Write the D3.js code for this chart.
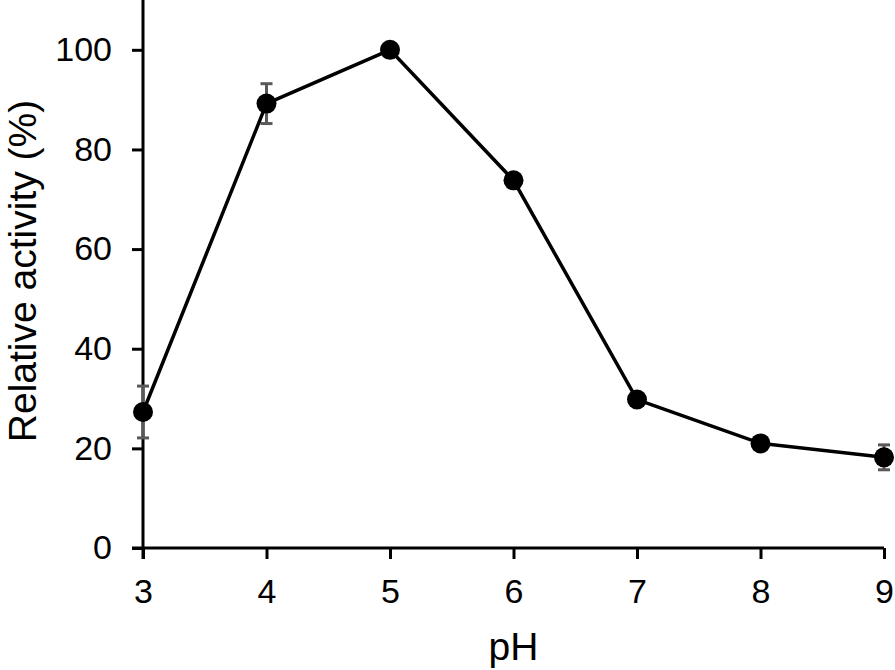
<!DOCTYPE html>
<html>
<head>
<meta charset="utf-8">
<script src="https://cdn.jsdelivr.net/npm/d3@7"></script>
<style>
body { margin: 0; background: #fff; }
svg { display: block; }
.axis path, .axis line { stroke: #000; stroke-width: 3; }
</style>
</head>
<body>
<svg width="895" height="670"></svg>
<script>
// data
var phValues = [3, 4, 5, 6, 7, 8, 9];
var activity = [27.3, 89.2, 100, 73.8, 29.8, 21.0, 18.2];
var errors = [5.2, 4.0, 0, 1.2, 0, 0, 2.5];
var yTicks = [0, 20, 40, 60, 80, 100];

var svg = d3.select("svg");
var plotLeft = 143, plotRight = 884, plotTop = 0, plotBottom = 548;
var fontFam = "Liberation Sans, Arial, sans-serif";

var xScale = d3.scaleLinear().domain([3, 9]).range([plotLeft, plotRight]);
var yScale = d3.scaleLinear().domain([0, 110]).range([plotBottom, plotTop]);

// x axis
svg.append("g")
    .attr("class", "axis")
    .attr("transform", "translate(0," + plotBottom + ")")
    .call(d3.axisBottom(xScale).tickValues(phValues).tickFormat(d3.format("d"))
        .tickSize(11).tickSizeOuter(0).tickPadding(20))
    .call(function(g) { g.select(".domain").attr("d", "M" + (plotLeft - 11) + ",0H" + plotRight); })
    .call(function(g) { g.selectAll("text").attr("font-size", 34).attr("font-family", fontFam).attr("fill", "#000"); });

// y axis
svg.append("g")
    .attr("class", "axis")
    .attr("transform", "translate(" + plotLeft + ",0)")
    .call(d3.axisLeft(yScale).tickValues(yTicks).tickFormat(d3.format("d"))
        .tickSize(11).tickSizeOuter(0).tickPadding(20))
    .call(function(g) { g.select(".domain").attr("d", "M0," + (plotBottom + 11) + "V" + plotTop); })
    .call(function(g) { g.selectAll("text").attr("font-size", 34).attr("font-family", fontFam).attr("fill", "#000"); });

// axis titles
svg.append("text")
    .attr("x", (plotLeft + plotRight) / 2)
    .attr("y", 660)
    .attr("text-anchor", "middle")
    .style("font-family", fontFam)
    .style("font-size", "39px")
    .text("pH");

svg.append("text")
    .attr("text-anchor", "middle")
    .attr("transform", "translate(36," + 271 + ")rotate(-90)")
    .style("font-family", fontFam)
    .style("font-size", "39px")
    .text("Relative activity (%)");

var data = phValues.map(function(p, i) { return { x: p, y: activity[i], e: errors[i] }; });

// error bars
var eb = svg.append("g").selectAll("g")
    .data(data.filter(function(d) { return d.e > 0; }))
    .enter().append("g")
    .style("stroke", "#595959")
    .style("stroke-width", 3);
eb.append("line")
    .attr("x1", function(d) { return xScale(d.x); })
    .attr("x2", function(d) { return xScale(d.x); })
    .attr("y1", function(d) { return yScale(d.y - d.e); })
    .attr("y2", function(d) { return yScale(d.y + d.e); });
eb.selectAll(".cap")
    .data(function(d) { return [[d.x, d.y - d.e], [d.x, d.y + d.e]]; })
    .enter().append("line")
    .attr("x1", function(d) { return xScale(d[0]) - 6; })
    .attr("x2", function(d) { return xScale(d[0]) + 6; })
    .attr("y1", function(d) { return yScale(d[1]); })
    .attr("y2", function(d) { return yScale(d[1]); });

var line = d3.line()
    .x(function(d) { return xScale(d.x); })
    .y(function(d) { return yScale(d.y); });

svg.append("path")
    .datum(data)
    .attr("d", line)
    .style("fill", "none")
    .style("stroke", "#000")
    .style("stroke-width", 3.5);

svg.append("g").selectAll("circle")
    .data(data)
    .enter().append("circle")
    .attr("cx", function(d) { return xScale(d.x); })
    .attr("cy", function(d) { return yScale(d.y); })
    .attr("r", 10)
    .style("fill", "#000");
</script>
</body>
</html>
